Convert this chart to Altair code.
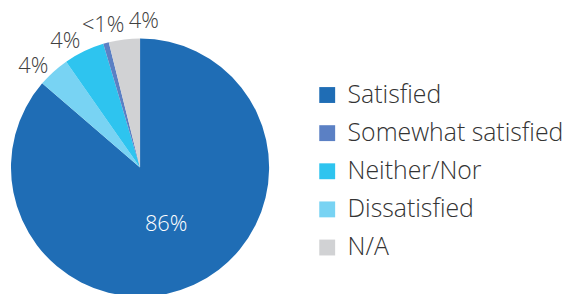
import math
import altair as alt
import pandas as pd

# Legend order
categories = ["Satisfied", "Somewhat satisfied", "Neither/Nor", "Dissatisfied", "N/A"]
colors = ["#1f6db5", "#5b80c4", "#2ec4ef", "#78d3f3", "#d1d2d4"]

# Pie order (clockwise from 12 o'clock)
pie_categories = ["Satisfied", "Dissatisfied", "Neither/Nor", "Somewhat satisfied", "N/A"]
pie_values = [86.3, 4.0, 5.1, 0.7, 3.9]
pie_labels = ["86%", "4%", "4%", "<1%", "4%"]

df = pd.DataFrame({
    "category": pie_categories,
    "value": pie_values,
    "label": pie_labels,
    "idx": list(range(len(pie_categories))),
})

# --- label placement: mid angles of the slices, small slices spread apart ---
total = sum(pie_values)
mids = []
acc = 0.0
for v in pie_values:
    mids.append((acc + v / 2) / total * 360.0)  # clockwise degrees from top
    acc += v

outer_idx = [i for i, c in enumerate(pie_categories) if c != "Satisfied"]
MIN_SEP = 16.0
ang = [mids[i] for i in outer_idx]
# simple relaxation: keep order, enforce min separation, keep cluster centred
for _ in range(200):
    moved = False
    for k in range(len(ang) - 1):
        gap = ang[k + 1] - ang[k]
        if gap < MIN_SEP:
            push = (MIN_SEP - gap) / 2
            ang[k] -= push
            ang[k + 1] += push
            moved = True
    if not moved:
        break

outer_df = pd.DataFrame({
    "angle": ang,
    "label": [pie_labels[i] for i in outer_idx],
})
inner_df = pd.DataFrame({
    "angle": [mids[i] for i, c in enumerate(pie_categories) if c == "Satisfied"],
    "label": [pie_labels[i] for i, c in enumerate(pie_categories) if c == "Satisfied"],
})

FONT = "Open Sans"
angle_scale = alt.Scale(domain=[0, 360], range=[0, 2 * math.pi])

arcs = alt.Chart(df).mark_arc(radius=130, strokeWidth=0).encode(
    theta=alt.Theta("value:Q", stack=True),
    order=alt.Order("idx:Q", sort="ascending"),
    color=alt.Color(
        "category:N",
        scale=alt.Scale(domain=categories, range=colors),
        sort=categories,
        legend=alt.Legend(
            title=None,
            orient="none",
            legendX=309,
            legendY=73,
            symbolType="square",
            symbolSize=256,
            symbolStrokeWidth=0,
            labelFont=FONT,
            labelFontSize=25,
            labelFontWeight=300,
            labelColor="#333333",
            labelOffset=8,
            rowPadding=12.4,
            padding=0,
            labelLimit=400,
        ),
    ),
)

inner = alt.Chart(inner_df).mark_text(
    radius=63, font=FONT, fontSize=22, fontWeight=300, color="white"
).encode(
    theta=alt.Theta("angle:Q", scale=angle_scale, stack=None),
    text="label:N",
)

outer = alt.Chart(outer_df).mark_text(
    radius=148, font=FONT, fontSize=22, fontWeight=300, color="#404040"
).encode(
    theta=alt.Theta("angle:Q", scale=angle_scale, stack=None),
    text="label:N",
)

chart = (
    alt.layer(arcs, inner, outer)
    .resolve_scale(theta="independent")
    .properties(width=266, height=317, padding=0)
    .configure_view(stroke=None)
)

chart.save("out.html", embed_options={"renderer": "svg", "actions": False})
